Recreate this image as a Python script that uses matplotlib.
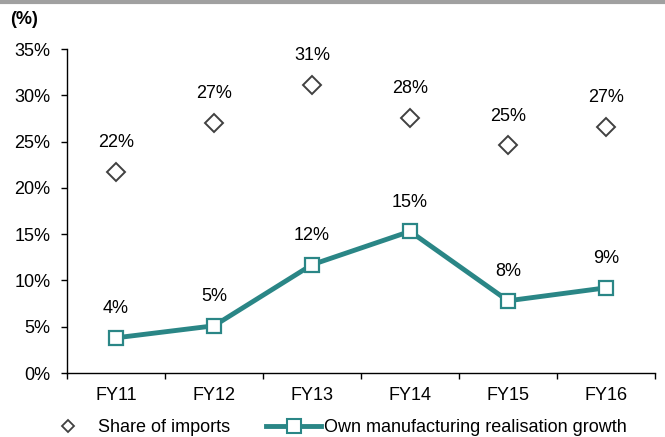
import matplotlib
matplotlib.use("Agg")
import matplotlib.pyplot as plt
from matplotlib.lines import Line2D

plt.rcParams['font.family'] = ['Liberation Sans', 'DejaVu Sans']

years = ['FY11', 'FY12', 'FY13', 'FY14', 'FY15', 'FY16']
share_imports = [21.7, 27.0, 31.1, 27.6, 24.6, 26.6]
import_labels = ['22%', '27%', '31%', '28%', '25%', '27%']
growth = [3.8, 5.1, 11.7, 15.3, 7.8, 9.2]
growth_labels = ['4%', '5%', '12%', '15%', '8%', '9%']

teal = '#2a8686'
dark = '#404040'
fs = 13

fig = plt.figure(figsize=(6.65, 4.37), dpi=100)
ax = fig.add_axes([67/665, 1-373/437, 588/665, 324/437])

x = list(range(len(years)))
ax.plot(x, share_imports, linestyle='none', marker='D', markersize=9,
        markerfacecolor='white', markeredgecolor=dark, markeredgewidth=1.4)
ax.plot(x, growth, color=teal, linewidth=3.5, marker='s', markersize=10,
        markerfacecolor='white', markeredgecolor=teal, markeredgewidth=1.6)

for i in x:
    ax.annotate(import_labels[i], (i, share_imports[i]), xytext=(0, 21),
                textcoords='offset points', ha='center', va='center', fontsize=fs)
    ax.annotate(growth_labels[i], (i, growth[i]), xytext=(0, 21),
                textcoords='offset points', ha='center', va='center', fontsize=fs)

ax.set_xlim(-0.5, 5.5)
ax.set_ylim(0, 35)
ax.set_yticks(range(0, 36, 5))
ax.set_yticklabels([f'{v}%' for v in range(0, 36, 5)], fontsize=fs)
ax.set_xticks([i - 0.5 for i in range(len(years) + 1)])
ax.set_xticklabels([])
ax.set_xticks(x, minor=True)
ax.set_xticklabels(years, minor=True, fontsize=fs)
ax.tick_params(axis='x', which='major', direction='out', length=4, width=1)
ax.tick_params(axis='x', which='minor', length=0, pad=10)
ax.tick_params(axis='y', direction='out', length=4, width=1, pad=8)
for s in ['top', 'right']:
    ax.spines[s].set_visible(False)
ax.spines['left'].set_linewidth(1)
ax.spines['bottom'].set_linewidth(1)

fig.text(10/665, 1-20/437, '(%)', fontsize=fs, fontweight='bold', va='center')

# top grey rule
fig.add_artist(Line2D([0, 1], [1-2/437, 1-2/437], color='#a0a0a0', linewidth=3))

handles = [
    Line2D([], [], linestyle='none', marker='D', markersize=6, markerfacecolor='white',
           markeredgecolor=dark, markeredgewidth=1.3),
    Line2D([], [], color=teal, linewidth=3.5, marker='s', markersize=10,
           markerfacecolor='white', markeredgecolor=teal, markeredgewidth=1.5),
]
fig.legend(handles, ['Share of imports', 'Own manufacturing realisation growth'],
           loc='center left', bbox_to_anchor=(40/665, 1-428/437), ncol=2, frameon=False,
           fontsize=fs, handlelength=3.05, columnspacing=2.0, handletextpad=0.15,
           borderaxespad=0, borderpad=0)

fig.savefig('out.png', dpi=100)
